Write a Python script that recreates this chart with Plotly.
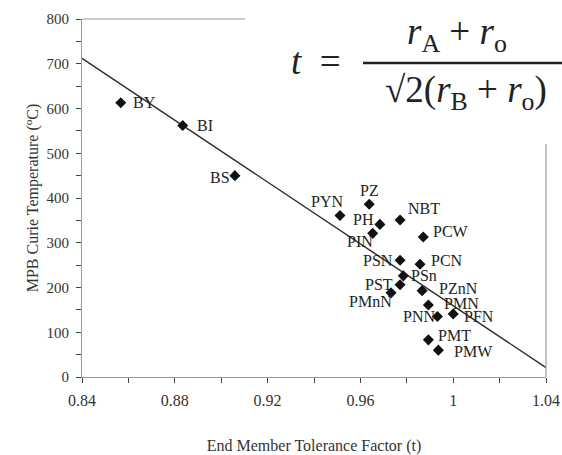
import plotly.graph_objects as go

# End-member compositions: tolerance factor t and MPB Curie temperature (°C)
names = ["BY", "BI", "BS", "PYN", "PZ", "PH", "PIN", "NBT", "PCW", "PSN",
         "PCN", "PSn", "PST", "PMnN", "PZnN", "PMN", "PNN", "PFN", "PMT", "PMW"]
tolerance = [0.8567, 0.8834, 0.9059, 0.9512, 0.9638, 0.9684, 0.9653, 0.9771, 0.9871, 0.9771,
             0.9857, 0.9785, 0.9771, 0.9732, 0.9866, 0.9893, 0.9932, 1.0000, 0.9893, 0.9936]
curie_T = [613, 562, 450, 361, 386, 341, 321, 351, 313, 261,
           252, 226, 206, 188, 193, 161, 135, 141, 83, 60]

# Linear trend line end points
trend_t = [0.84, 1.04]
trend_T = [712, 21]

# Label offsets in pixels (dx right, dy down) for each point label
label_dx = [24, 22, -15, -13, 0, -16, -13, 24, 28, -22,
            27, 21, -21, -21, 36, 33, -18, 26, 26, 35]
label_dy = [0, 0, 2, -14, -14, -5, 8, -11, -5, 0,
            -4, 0, 0, 9, -2, -1, 0, 3, -4, 1]

FONT = "Liberation Serif"
W, H = 562, 455
ML, MR, MT, MB = 82, 16, 19, 78
PW, PH = W - ML - MR, H - MT - MB


def px(x):
    return (x - ML) / PW


def py(y):
    return (H - MB - y) / PH


fig = go.Figure()
fig.add_trace(go.Scatter(x=trend_t, y=trend_T, mode="lines",
                         line=dict(color="#2a2a2a", width=1.4),
                         hoverinfo="skip", showlegend=False))
fig.add_trace(go.Scatter(x=tolerance, y=curie_T, mode="markers",
                         marker=dict(symbol="diamond", size=8.5, color="#111111"),
                         text=names, showlegend=False))

annotations = []
for n, xv, yv, dx, dy in zip(names, tolerance, curie_T, label_dx, label_dy):
    annotations.append(dict(x=xv, y=yv, xref="x", yref="y", text=n, showarrow=False,
                            xanchor="center", yanchor="middle",
                            xshift=dx, yshift=-dy,
                            font=dict(family=FONT, size=16, color="#222222")))

# Tolerance factor formula
formula_font = dict(family=FONT, size=37, color="#222")
annotations += [
    dict(x=px(316), y=py(62), xref="paper", yref="paper", showarrow=False,
         xanchor="center", yanchor="middle",
         text="<i>t</i>&nbsp;&nbsp;=", font=formula_font),
    dict(x=px(457), y=py(35), xref="paper", yref="paper", showarrow=False,
         xanchor="center", yanchor="middle",
         text="<i>r</i><sub>A</sub> + <i>r</i><sub>o</sub>", font=formula_font),
    dict(x=px(466), y=py(92), xref="paper", yref="paper", showarrow=False,
         xanchor="center", yanchor="middle",
         text="√2(<i>r</i><sub>B</sub>&nbsp;+&nbsp;<i>r</i><sub>o</sub>)", font=formula_font),
]

shapes = [
    # partial plot frame (top and right edges)
    dict(type="line", xref="paper", yref="paper", x0=0, x1=px(245), y0=1, y1=1,
         line=dict(color="#9a9a9a", width=1.2)),
    dict(type="line", xref="paper", yref="paper", x0=1, x1=1, y0=0, y1=py(144),
         line=dict(color="#9a9a9a", width=1.2)),
    # fraction bar
    dict(type="line", xref="paper", yref="paper", x0=px(363), x1=px(562),
         y0=py(63), y1=py(63), line=dict(color="#222", width=2.5)),
]

fig.update_layout(
    width=W, height=H,
    margin=dict(l=ML, r=MR, t=MT, b=MB, autoexpand=False),
    paper_bgcolor="white", plot_bgcolor="white",
    font=dict(family=FONT, size=16, color="#333"),
    annotations=annotations, shapes=shapes,
    xaxis=dict(range=[0.84, 1.04],
               tickvals=[0.84, 0.88, 0.92, 0.96, 1.0, 1.04],
               ticktext=["0.84", "0.88", "0.92", "0.96", "1", "1.04"],
               showgrid=False, zeroline=False, showline=True, linecolor="#9a9a9a",
               linewidth=1.2, ticks="outside", ticklen=5, tickcolor="#444",
               ticklabelstandoff=4,
               minor=dict(ticks="outside", ticklen=5, dtick=0.02, tick0=0.84,
                          tickcolor="#444", showgrid=False),
               tickfont=dict(family=FONT, size=16, color="#333"),
               title=dict(text="End Member Tolerance Factor (t)", standoff=32,
                          font=dict(family=FONT, size=16, color="#333"))),
    yaxis=dict(range=[0, 800], dtick=100, showgrid=False, zeroline=False,
               showline=True, linecolor="#9a9a9a", linewidth=1.2,
               ticks="outside", ticklen=5, tickcolor="#444",
               ticklabelstandoff=4,
               minor=dict(ticks="outside", ticklen=5, dtick=50, tickcolor="#444",
                          showgrid=False),
               tickfont=dict(family=FONT, size=15, color="#333"),
               title=dict(text="MPB Curie Temperature (<sup>o</sup>C)", standoff=3,
                          font=dict(family=FONT, size=16, color="#333"))),
)

fig.write_html("out.html")
